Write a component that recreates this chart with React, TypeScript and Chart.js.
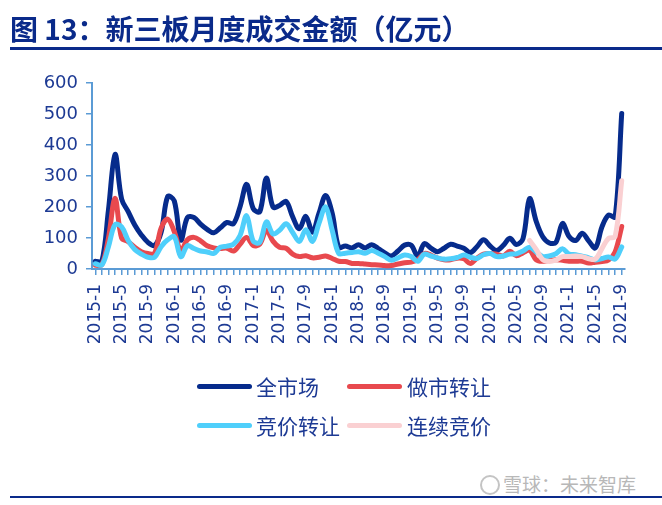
import React, { useEffect, useRef } from "react";
import { Chart, registerables } from "chart.js";

Chart.register(...registerables);

const years = [2015, 2016, 2017, 2018, 2019, 2020, 2021];
const categories: string[] = [];
for (const y of years) {
  for (let m = 1; m <= 12; m++) {
    if (y === 2021 && m > 9) break;
    categories.push(`${y}-${m}`);
  }
}

const totalMarket = [
  25, 25, 190, 370, 226, 185, 142, 110, 86, 76, 118, 234, 220, 93, 166, 166,
  145, 128, 117, 133, 150, 146, 201, 273, 195, 185, 293, 200, 205, 218, 168, 130,
  170, 119, 180, 237, 180, 70, 74, 68, 78, 68, 78, 66, 52, 42, 58, 77,
  77, 42, 82, 67, 56, 67, 80, 74, 67, 53, 72, 94, 74, 60, 76, 99,
  79, 98, 227, 154, 104, 84, 86, 147, 105, 92, 115, 90, 68, 136, 174, 168,
  502,
];

const marketMaking = [
  12, 14, 100, 228, 100, 88, 70, 56, 50, 50, 132, 161, 121, 59, 94, 102,
  91, 75, 68, 66, 67, 58, 80, 102, 76, 80, 125, 90, 70, 67, 48, 40,
  43, 36, 38, 42, 34, 25, 24, 18, 18, 16, 14, 13, 11, 11, 16, 20,
  22, 30, 50, 45, 35, 30, 30, 35, 33, 18, 35, 48, 50, 48, 42, 57,
  43, 52, 60, 30, 25, 28, 30, 28, 25, 25, 25, 19, 22, 24, 29, 55,
  137,
];

const bidding = [
  17, 13, 72, 143, 136, 92, 63, 48, 38, 38, 72, 94, 104, 40, 75, 66,
  58, 55, 50, 70, 74, 80, 108, 172, 90, 86, 152, 113, 125, 146, 118, 89,
  127, 89, 148, 200, 125, 50, 51, 53, 56, 51, 60, 51, 40, 28, 36, 45,
  40, 25, 48, 42, 36, 32, 33, 37, 45, 38, 34, 46, 50, 40, 42, 48,
  49, 58, 70, 55, 40, 42, 49, 65, 48, 46, 41, 36, 29, 34, 39, 32,
  71,
];

const continuousBidding: (number | null)[] = [
  null, null, null, null, null, null, null, null, null, null, null, null, null, null, null, null,
  null, null, null, null, null, null, null, null, null, null, null, null, null, null, null, null,
  null, null, null, null, null, null, null, null, null, null, null, null, null, null, null, null,
  null, null, null, null, null, null, null, null, null, null, null, null, null, null, null, null,
  null, null, 92, 63, 30, 24, 29, 40, 40, 42, 40, 33, 32, 66, 99, 105,
  285,
];

const yTicks = [0, 100, 200, 300, 400, 500, 600];

const seriesNames = ["全市场", "做市转让", "竞价转让", "连续竞价"];
const seriesColors = ["#062b8c", "#e8494e", "#4fcffb", "#fad0d2"];

const AXIS = "#5b9bd5";
const TEXT = "#1d3a94";
const NAVY = "#0a2a8a";

export default function App() {
  const ref = useRef<HTMLCanvasElement | null>(null);

  useEffect(() => {
    if (!ref.current) return;
    const allData = [totalMarket, marketMaking, bidding, continuousBidding];
    const chart = new Chart(ref.current, {
      type: "line",
      data: {
        labels: categories,
        datasets: allData.map((d, i) => ({
          label: seriesNames[i],
          data: d,
          borderColor: seriesColors[i],
          backgroundColor: seriesColors[i],
          borderWidth: 5,
          pointRadius: 0,
          tension: 0.35,
          fill: false,
          spanGaps: false,
          borderCapStyle: "round" as const,
          borderJoinStyle: "round" as const,
          order: 3 - i,
        })),
      },
      options: {
        animation: false,
        responsive: false,
        devicePixelRatio: 1,
        layout: { padding: { top: 83, right: 37, left: 0, bottom: 0 } },
        plugins: {
          legend: { display: false },
          tooltip: { enabled: false },
          title: { display: false },
        },
        scales: {
          x: {
            type: "category",
            offset: true,
            afterFit: (scale: any) => {
              scale.height = 103;
            },
            grid: {
              drawOnChartArea: false,
              drawTicks: true,
              tickLength: 6,
              color: AXIS,
              lineWidth: 1.5,
            },
            border: { display: true, color: AXIS, width: 2 },
            ticks: {
              autoSkip: false,
              maxRotation: 90,
              minRotation: 90,
              padding: 9,
              color: TEXT,
              font: { family: "'DejaVu Sans', sans-serif", size: 17 },
              callback: (_v: any, idx: number) => (idx % 4 === 0 ? categories[idx] : ""),
            },
          },
          y: {
            min: 0,
            max: 600,
            afterFit: (scale: any) => {
              scale.width = 92;
            },
            afterBuildTicks: (scale: any) => {
              scale.ticks = yTicks.map((v) => ({ value: v }));
            },
            grid: {
              drawOnChartArea: false,
              drawTicks: true,
              tickLength: 6,
              color: AXIS,
              lineWidth: 1.5,
            },
            border: { display: true, color: AXIS, width: 2 },
            ticks: {
              padding: 8,
              color: TEXT,
              font: { family: "'DejaVu Sans', sans-serif", size: 18 },
            },
          },
        },
      },
    });
    return () => chart.destroy();
  }, []);

  const legendPos = [
    { lx: 197, tx: 256, cy: 386 },
    { lx: 347, tx: 407, cy: 386 },
    { lx: 197, tx: 256, cy: 425 },
    { lx: 347, tx: 407, cy: 425 },
  ];

  return (
    <div
      style={{
        position: "absolute",
        left: 0,
        top: 0,
        width: 662,
        height: 505,
        background: "#fff",
        overflow: "hidden",
      }}
    >
      <canvas
        ref={ref}
        width={662}
        height={372}
        style={{ position: "absolute", left: 0, top: 0, width: 662, height: 372 }}
      />
      <div
        style={{
          position: "absolute",
          left: 10,
          top: 8,
          lineHeight: "40px",
          fontSize: 28,
          fontWeight: 700,
          color: NAVY,
          fontFamily: "'Noto Sans CJK SC', sans-serif",
          whiteSpace: "nowrap",
        }}
      >
        图 13：新三板月度成交金额（亿元）
      </div>
      <div style={{ position: "absolute", left: 10, top: 47, width: 652, height: 3, background: NAVY }} />
      {seriesNames.map((name, i) => (
        <React.Fragment key={name}>
          <div
            style={{
              position: "absolute",
              left: legendPos[i].lx,
              top: legendPos[i].cy - 2.5,
              width: 55,
              height: 5,
              borderRadius: 3,
              background: seriesColors[i],
            }}
          />
          <div
            style={{
              position: "absolute",
              left: legendPos[i].tx,
              top: legendPos[i].cy - 15,
              lineHeight: "30px",
              fontSize: 21,
              color: TEXT,
              fontFamily: "'Noto Sans CJK SC', sans-serif",
              whiteSpace: "nowrap",
            }}
          >
            {name}
          </div>
        </React.Fragment>
      ))}
      <div
        style={{
          position: "absolute",
          left: 480,
          top: 475,
          width: 16,
          height: 16,
          borderRadius: "50%",
          border: "2px solid #c4c4c4",
        }}
      />
      <div
        style={{
          position: "absolute",
          left: 503,
          top: 470,
          lineHeight: "28px",
          fontSize: 19,
          color: "#b8b8b8",
          fontFamily: "'Noto Sans CJK SC', sans-serif",
          whiteSpace: "nowrap",
        }}
      >
        雪球：未来智库
      </div>
      <div style={{ position: "absolute", left: 10, top: 496, width: 652, height: 2, background: NAVY }} />
    </div>
  );
}
